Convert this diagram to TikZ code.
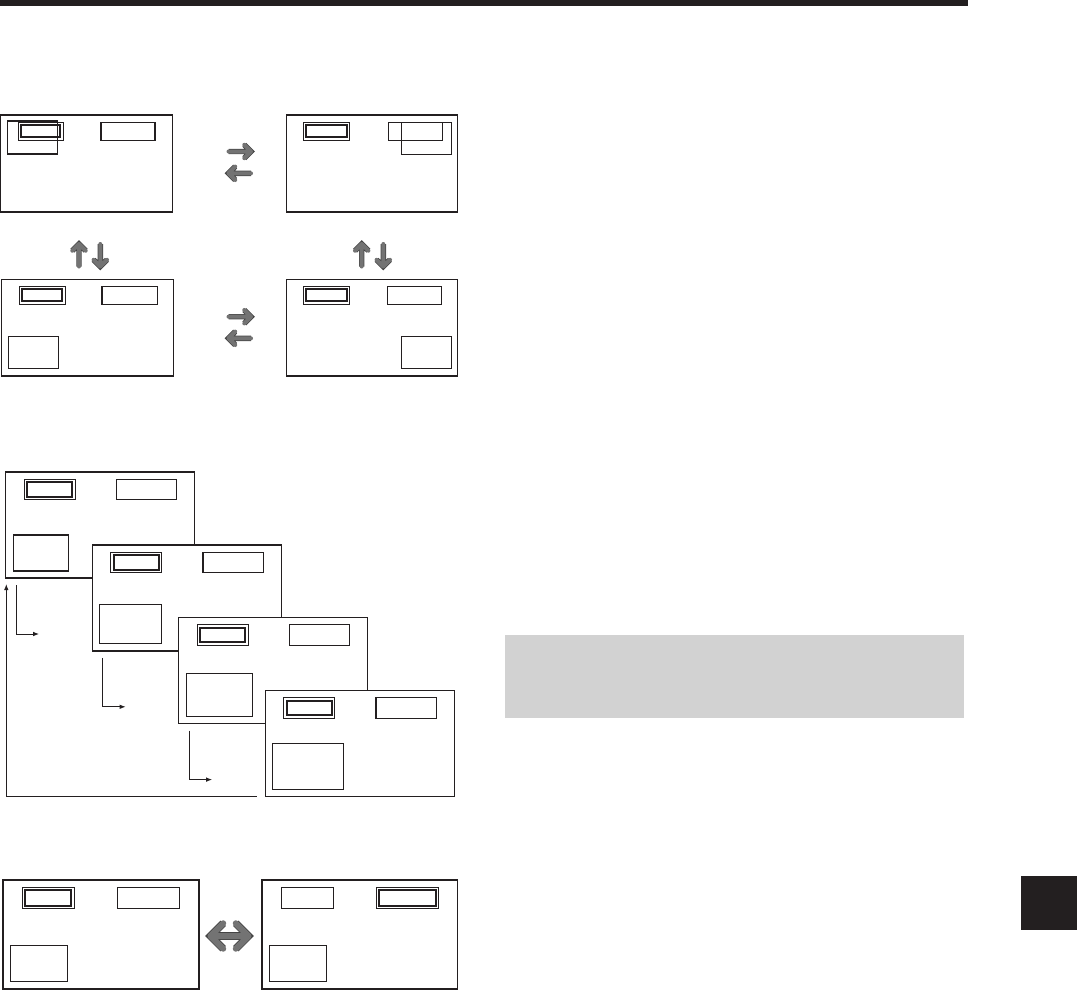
\documentclass[tikz,border=0pt]{standalone}
\usepackage{tikz}
\usetikzlibrary{positioning,arrows.meta,calc}
\definecolor{ink}{RGB}{35,31,32}
\definecolor{panel}{RGB}{210,210,210}
\definecolor{arrowfill}{RGB}{115,115,115}
\definecolor{arrowedge}{RGB}{68,68,68}

\begin{document}
\begin{tikzpicture}[x=1pt, y=-1pt, >=Latex]
\tikzset{
  scr/.style={draw=ink, line width=1.4pt, fill=white, inner sep=0, outer sep=0, anchor=north west},
  win/.style={draw=ink, line width=1.1pt, inner sep=0, outer sep=0, anchor=north west},
  selbox/.style={win, line width=0.9pt},
  thk/.style={draw=ink, line width=2pt},
  garrow/.style={draw=arrowfill, line width=4pt, line cap=round, line join=round,
    preaction={draw=arrowedge, line width=5.4pt}},
  dgarrow/.style={garrow, line width=6pt, preaction={draw=arrowedge, line width=7.6pt}},
  flow/.style={draw=ink, line width=1pt, -{Latex[length=6pt,width=4.5pt]}}
}
\useasboundingbox (0,0) rectangle (1077,991);

% page furniture
\fill[ink] (0,0) rectangle (968,5.5);
\fill[panel] (505,635) rectangle (964,718);
\fill[ink] (1021,876) rectangle (1077,930);

% four screens at the top
\node[scr, minimum width=172pt, minimum height=97pt] (scrA) at (0.7,115) {};
\node[win, minimum width=50pt, minimum height=33pt] (winA) at (7.3,121) {};
\node[selbox, minimum width=45pt, minimum height=18pt] (selA) at (18.3,122.3) {};
\node[win, minimum width=54pt, minimum height=18pt] (recA) at (101,122.3) {};

\node[scr, minimum width=171pt, minimum height=97pt] (scrB) at (286.3,115) {};
\node[selbox, minimum width=46.4pt, minimum height=18pt] (selB) at (303.3,122.3) {};
\node[win, minimum width=54.4pt, minimum height=18pt] (recB) at (388.3,122.3) {};
\node[win, minimum width=50pt, minimum height=32pt] (winB) at (401.3,122.3) {};

\node[scr, minimum width=171.6pt, minimum height=96.7pt] (scrC) at (1.7,279.3) {};
\node[selbox, minimum width=46pt, minimum height=18pt] (selC) at (19.3,286.3) {};
\node[win, minimum width=55.3pt, minimum height=18pt] (recC) at (102,286.3) {};
\node[win, minimum width=50.4pt, minimum height=32pt] (winC) at (8.3,336.3) {};

\node[scr, minimum width=171pt, minimum height=96.7pt] (scrD) at (286.3,279.3) {};
\node[selbox, minimum width=46.4pt, minimum height=18pt] (selD) at (303.3,286.3) {};
\node[win, minimum width=54.4pt, minimum height=18pt] (recD) at (387.3,286.3) {};
\node[win, minimum width=50pt, minimum height=32pt] (winD) at (401.3,336.3) {};

% gray switch arrows
\coordinate (ab1) at (228.5,151.5);  \coordinate (ab2) at (251,151.5);
\coordinate (ba1) at (251,173.3);    \coordinate (ba2) at (228.5,173.3);
\coordinate (cd1) at (228.5,316.7);  \coordinate (cd2) at (251,316.7);
\coordinate (dc1) at (251,338.3);    \coordinate (dc2) at (228.5,338.3);
\coordinate (ca1) at (79,266.5);     \coordinate (ca2) at (79,244);
\coordinate (ac1) at (100.3,244);    \coordinate (ac2) at (100.3,266.5);
\coordinate (db1) at (361.7,266.5);  \coordinate (db2) at (361.7,244);
\coordinate (bd1) at (383.3,244);    \coordinate (bd2) at (383.3,266.5);
\foreach \s/\t in {ab1/ab2, ba1/ba2, cd1/cd2, dc1/dc2, ca1/ca2, ac1/ac2, db1/db2, bd1/bd2}
  \draw[garrow] (\s) -- (\t) ($(\t)!9.5pt!45:(\s)$) -- (\t) -- ($(\t)!9.5pt!-45:(\s)$);

% cascade of screens
\foreach \i/\lw/\lh in {1/55.4/36, 2/61.4/39, 3/66.4/43, 4/71/46} {
  \coordinate (o\i) at ({5.7+86.5*(\i-1)}, {472+72.8*(\i-1)});
  \node[scr, minimum width=189pt, minimum height=106pt] (cas\i) at (o\i) {};
  \node[selbox, minimum width=51pt, minimum height=20.5pt] (cs\i) at ($(o\i)+(18.6,7.3)$) {};
  \node[win, minimum width=60.2pt, minimum height=20.5pt] (cr\i) at ($(o\i)+(110.8,7.3)$) {};
  \node[win, anchor=south west, minimum width=\lw pt, minimum height=\lh pt] (cw\i) at ($(o\i)+(7.6,99)$) {};
}
\foreach \i in {1,2,3} {
  \coordinate (e\i) at ($(o\i)+(10.6,113)$);
  \coordinate (f\i) at ($(o\i)+(33.5,162)$);
  \draw[flow] (e\i) |- (f\i);
}
\coordinate (rs) at (256.7,796.3);
\coordinate (rt) at (6.3,584);
\draw[flow] (rs) -| (rt);

% bottom pair
\node[scr, line width=1.6pt, minimum width=196pt, minimum height=109pt] (scrE) at (2.7,880) {};
\node[selbox, minimum width=52pt, minimum height=21.4pt] (selE) at (22.3,887.3) {};
\node[win, minimum width=62.4pt, minimum height=21.4pt] (recE) at (117.3,887.3) {};
\node[win, minimum width=57.4pt, minimum height=36pt] (winE) at (10.3,945.3) {};

\node[scr, line width=1.6pt, minimum width=195.6pt, minimum height=109pt] (scrF) at (261.7,880) {};
\node[win, minimum width=52.4pt, minimum height=21.4pt] (recF) at (281.3,887.3) {};
\node[selbox, minimum width=62.4pt, minimum height=21.4pt] (selF) at (376.3,887.3) {};
\node[win, minimum width=57.4pt, minimum height=36pt] (winF) at (269.3,945.3) {};

\coordinate (ef1) at (210.5,936);
\coordinate (ef2) at (248.5,936);
\draw[dgarrow] (ef1) -- (ef2)
  ($(ef2)!18pt!45:(ef1)$) -- (ef2) -- ($(ef2)!18pt!-45:(ef1)$)
  ($(ef1)!18pt!45:(ef2)$) -- (ef1) -- ($(ef1)!18pt!-45:(ef2)$);

% inner frame of the selected boxes
\foreach \s in {selA, selB, selC, selD, cs1, cs2, cs3, cs4, selE, selF}
  \draw[thk] ([shift={(3,3)}]\s.north west) rectangle ([shift={(-3,-3)}]\s.south east);
\end{tikzpicture}
\end{document}
